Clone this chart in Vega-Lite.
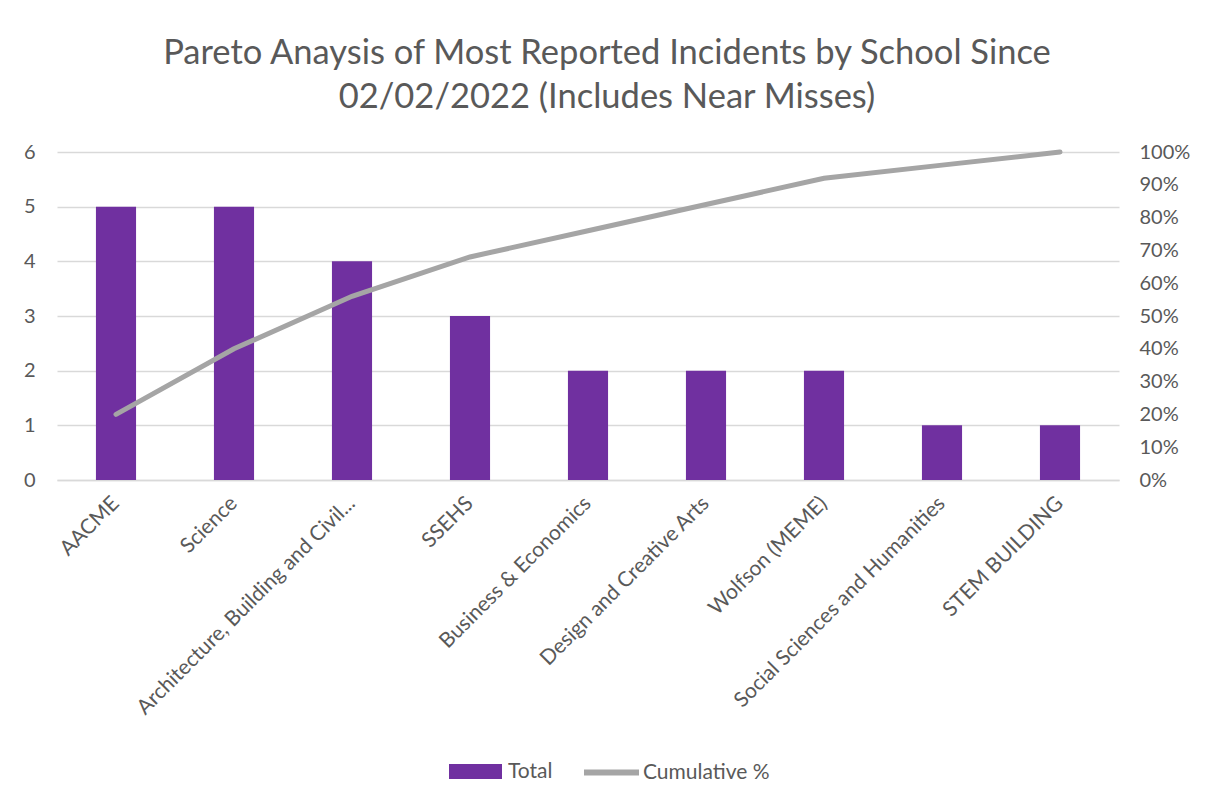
{
  "$schema": "https://vega.github.io/schema/vega-lite/v6.json",
  "width": 1062,
  "height": 328,
  "autosize": {"type": "none"},
  "padding": {"left": 57, "top": 152, "right": 89, "bottom": 330},
  "background": "white",
  "config": {"view": {"stroke": null}, "font": "Lato"},
  "title": {
    "text": ["Pareto Anaysis of Most Reported Incidents by School Since", "02/02/2022 (Includes Near Misses)"],
    "fontSize": 34.5,
    "font": "Lato",
    "fontWeight": "normal",
    "color": "#595959",
    "anchor": "middle",
    "frame": "group",
    "dx": 19,
    "offset": 27,
    "lineHeight": 44
  },
  "data": {
    "values": [
      {"school": "AACME", "total": 5, "cum": 0.20},
      {"school": "Science", "total": 5, "cum": 0.40},
      {"school": "Architecture, Building and Civil...", "total": 4, "cum": 0.56},
      {"school": "SSEHS", "total": 3, "cum": 0.68},
      {"school": "Business & Economics", "total": 2, "cum": 0.76},
      {"school": "Design and Creative Arts", "total": 2, "cum": 0.84},
      {"school": "Wolfson (MEME)", "total": 2, "cum": 0.92},
      {"school": "Social Sciences and Humanities", "total": 1, "cum": 0.96},
      {"school": "STEM BUILDING", "total": 1, "cum": 1.00}
    ]
  },
  "encoding": {
    "x": {
      "field": "school",
      "type": "nominal",
      "sort": null,
      "scale": {"paddingInner": 0.66, "paddingOuter": 0.33},
      "axis": {
        "title": null,
        "labelAngle": -45,
        "labelAlign": "right",
        "labelBaseline": "middle",
        "labelFontSize": 21,
        "labelColor": "#595959",
        "labelFont": "Lato",
        "labelPadding": 20,
        "labelLimit": 500,
        "ticks": false,
        "domain": true,
        "domainColor": "#D9D9D9",
        "domainWidth": 1.5
      }
    }
  },
  "layer": [
    {
      "mark": {"type": "bar"},
      "encoding": {
        "y": {
          "field": "total",
          "type": "quantitative",
          "scale": {"domain": [0, 6]},
          "axis": {
            "title": null,
            "values": [0, 1, 2, 3, 4, 5, 6],
            "grid": true,
            "gridColor": "#D9D9D9",
            "gridWidth": 1.5,
            "domain": false,
            "ticks": false,
            "labelPadding": 22,
            "labelFontSize": 20,
            "labelColor": "#595959",
            "labelFont": "Lato"
          }
        },
        "fill": {
          "datum": "Total",
          "type": "nominal",
          "scale": {"range": ["#7030A0"]},
          "legend": {
            "title": null,
            "orient": "none",
            "legendX": 392,
            "legendY": 593,
            "padding": 0,
            "symbolType": "M-1,-0.283H1V0.283H-1Z",
            "symbolSize": 2809,
            "symbolStrokeWidth": 0,
            "labelFontSize": 21,
            "labelColor": "#595959",
            "labelFont": "Lato",
            "labelOffset": 6
          }
        }
      }
    },
    {
      "mark": {"type": "line", "strokeWidth": 5, "strokeCap": "round"},
      "encoding": {
        "y": {
          "field": "cum",
          "type": "quantitative",
          "scale": {"domain": [0, 1]},
          "axis": {
            "orient": "right",
            "title": null,
            "values": [0, 0.1, 0.2, 0.3, 0.4, 0.5, 0.6, 0.7, 0.8, 0.9, 1],
            "format": ".0%",
            "grid": false,
            "domain": false,
            "ticks": false,
            "labelPadding": 20,
            "labelFontSize": 20,
            "labelColor": "#595959",
            "labelFont": "Lato"
          }
        },
        "stroke": {
          "datum": "Cumulative %",
          "type": "nominal",
          "scale": {"range": ["#A5A5A5"]},
          "legend": {
            "title": null,
            "orient": "none",
            "legendX": 524,
            "legendY": 590,
            "padding": 0,
            "symbolType": "stroke",
            "symbolSize": 3025,
            "symbolStrokeWidth": 6,
            "labelFontSize": 21,
            "labelColor": "#595959",
            "labelFont": "Lato",
            "labelOffset": 1
          }
        }
      }
    }
  ],
  "resolve": {"scale": {"y": "independent"}}
}
